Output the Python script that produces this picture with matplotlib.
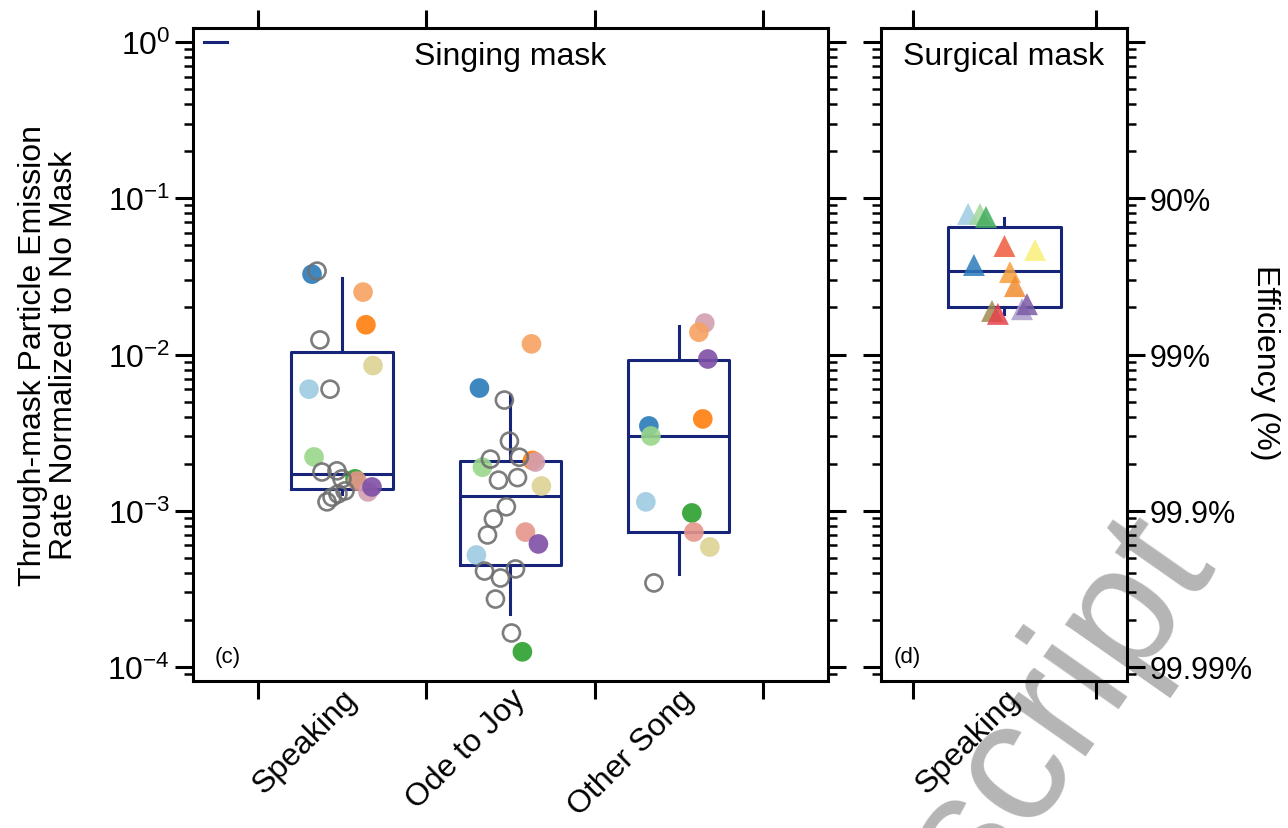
import numpy as np
import matplotlib
matplotlib.use("Agg")
import matplotlib.pyplot as plt
from matplotlib.ticker import LogLocator, NullFormatter

plt.rcParams.update({
    "font.family": ["Liberation Sans", "DejaVu Sans"],
    "mathtext.fontset": "custom",
    "mathtext.rm": "Liberation Sans",
    "mathtext.it": "Liberation Sans",
    "axes.unicode_minus": False,
    "font.size": 23,
})

NAVY = "#16247a"
GRAY = "#6f6f6f"

# participant colours (as seen in the figure)
C = {
    "blue": "#2a7ab8", "lblue": "#9fcbe3", "orange": "#ff7f0e", "lorange": "#f8a262",
    "green": "#2ca02c", "lgreen": "#99d68a", "salmon": "#e6958a", "purple": "#7d4fa6",
    "pink": "#d3a0b0", "khaki": "#dcd394",
}

categories = ["Speaking", "Ode to Joy", "Other Song"]

# box statistics (q1, median, q3, whisker low, whisker high)
box_q1 = [0.00138, 0.00045, 0.00073]
box_med = [0.00172, 0.00124, 0.00301]
box_q3 = [0.0104, 0.00208, 0.00922]
box_lo = [0.00128, 0.000218, 0.000394]
box_hi = [0.0309, 0.0055, 0.0152]

# unidentified participants (open grey circles): (category index, x offset, value)
open_cat = [0] * 10 + [1] * 14 + [2]
open_dx = [-0.148, -0.131, -0.071, -0.119, -0.030, 0.0, -0.089, -0.059, -0.024, 0.018,
           -0.036, -0.006, -0.119, 0.053, -0.071, 0.042, -0.024, -0.101, -0.136, -0.154,
           0.030, -0.059, -0.089, 0.006,
           -0.148]
open_val = [0.0342, 0.0124, 0.0060, 0.00177, 0.00180, 0.00160, 0.00114, 0.00122, 0.00128, 0.00134,
            0.00511, 0.00279, 0.00214, 0.0022, 0.00157, 0.00163, 0.00106, 0.000886, 0.0007, 0.000411,
            0.000424, 0.000371, 0.000272, 0.000165,
            0.000345]

# identified participants (filled circles)
fill_cat = [0] * 10 + [1] * 10 + [2] * 10
fill_col = ["blue", "lorange", "orange", "khaki", "lblue", "lgreen", "green", "salmon", "pink", "purple",
            "blue", "lorange", "orange", "pink", "lgreen", "khaki", "salmon", "purple", "lblue", "green",
            "pink", "lorange", "purple", "orange", "blue", "lgreen", "lblue", "green", "salmon", "khaki"]
fill_dx = [-0.178, 0.125, 0.142, 0.184, -0.196, -0.166, 0.077, 0.089, 0.154, 0.178,
           -0.184, 0.125, 0.131, 0.148, -0.166, 0.184, 0.089, 0.166, -0.202, 0.071,
           0.154, 0.119, 0.172, 0.142, -0.178, -0.166, -0.196, 0.077, 0.089, 0.184]
fill_val = [0.0327, 0.0251, 0.0155, 0.0085, 0.0060, 0.00221, 0.0016, 0.00155, 0.00132, 0.00142,
            0.0061, 0.0117, 0.0021, 0.00205, 0.0019, 0.00144, 0.00073, 0.000613, 0.000521, 0.000125,
            0.0159, 0.0139, 0.00936, 0.00387, 0.00349, 0.00301, 0.00114, 0.000968, 0.000731, 0.000586]

# surgical mask, speaking
surg_stats = dict(q1=0.0201, med=0.0342, q3=0.0655, whislo=0.0182, whishi=0.0748)
surg_col = ["#9ecae1", "#a1d99b", "#41ab5d", "#ef5a3c", "#f8ef78", "#2b7bba",
            "#f7a03c", "#f08c30", "#a99bc9", "#7b5ba6", "#a08c50", "#e6404a"]
surg_dx = [-0.199, -0.134, -0.101, 0.0, 0.167, -0.167, 0.030, 0.057, 0.096, 0.123, -0.068, -0.036]
surg_val = [0.0794, 0.0794, 0.0759, 0.0495, 0.0467, 0.0374, 0.0337, 0.0274, 0.0195, 0.021, 0.019, 0.0182]

eff_ticks = [1, 1e-1, 1e-2, 1e-3, 1e-4]
eff_labels = ["", "90%", "99%", "99.9%", "99.99%"]

YLIM = (10 ** -4.09, 10 ** 0.09)

fig = plt.figure(figsize=(12.88, 8.29), dpi=100)
ax = fig.add_axes([0.1498, 0.1773, 0.4930, 0.7877])
ax2 = fig.add_axes([0.684, 0.1773, 0.191, 0.7877])

boxprops = dict(color=NAVY, linewidth=2.2)


def style(a, cats):
    a.set_yscale("log")
    a.set_ylim(*YLIM)
    a.patch.set_alpha(0)
    for s in a.spines.values():
        s.set_linewidth(2.2)
    a.yaxis.set_major_locator(LogLocator(base=10, numticks=10))
    a.yaxis.set_minor_locator(LogLocator(base=10, subs=np.arange(2, 10), numticks=10))
    a.yaxis.set_minor_formatter(NullFormatter())
    n = len(cats)
    a.set_xticks(np.arange(n + 1) - 0.5)
    a.set_xticks(range(n), cats, minor=True)
    a.tick_params(which="major", direction="out", length=13, width=2.2)
    a.tick_params(which="minor", direction="out", length=6.5, width=1.8)
    a.tick_params(axis="x", which="major", top=True, bottom=True, labelbottom=False)
    a.tick_params(axis="x", which="minor", length=0, top=False, bottom=True,
                  labelrotation=45, pad=2)
    a.tick_params(axis="y", which="both", left=True, right=True)
    for lab in a.get_xticklabels(minor=True):
        lab.set_ha("right")
        lab.set_rotation_mode("anchor")


# panel (c)
stats = [dict(q1=a, med=b, q3=c, whislo=d, whishi=e)
         for a, b, c, d, e in zip(box_q1, box_med, box_q3, box_lo, box_hi)]
ax.bxp(stats, positions=range(len(categories)), widths=0.6, showcaps=False, showfliers=False,
       boxprops=boxprops, whiskerprops=boxprops, medianprops=boxprops, manage_ticks=False)
ax.scatter(np.array(fill_cat) + np.array(fill_dx), fill_val, s=200,
           c=[C[k] for k in fill_col], alpha=0.9, linewidths=0, zorder=3)
ax.scatter(np.array(open_cat) + np.array(open_dx), open_val, s=150, facecolors="none",
           edgecolors=GRAY, linewidths=1.9, alpha=0.9, zorder=4)
ax.plot([-0.82, -0.68], [1, 1], color=NAVY, lw=2.2)
style(ax, categories)
ax.set_xlim(-0.885, 2.885)
ax.text(0.5, 0.957, "Singing mask", transform=ax.transAxes, ha="center", va="center")
ax.text(0.055, 0.038, "(c)", transform=ax.transAxes, ha="center", va="center", fontsize=16)
ax.set_ylabel("Through-mask Particle Emission\nRate Normalized to No Mask", linespacing=1.05,
              va="center", ha="center")
ax.yaxis.set_label_coords(-0.227, 0.5)

# panel (d)
ax2.bxp([surg_stats], positions=[0], widths=0.62, showcaps=False, showfliers=False,
        boxprops=boxprops, whiskerprops=boxprops, medianprops=boxprops, manage_ticks=False)
ax2.scatter(np.array(surg_dx), surg_val, s=250, marker="^", c=surg_col, alpha=0.85,
            linewidths=0, zorder=3)
style(ax2, ["Speaking"])
ax2.set_xlim(-0.675, 0.67)
ax2.set_yticks(eff_ticks, eff_labels)
ax2.tick_params(axis="y", which="both", labelleft=False, labelright=True)
ax2.tick_params(axis="y", which="major", labelsize=22)
ax2.yaxis.set_label_position("right")
ax2.set_ylabel("Efficiency (%)", rotation=270, va="center", ha="center")
ax2.yaxis.set_label_coords(1.561, 0.489)
ax2.text(0.5, 0.957, "Surgical mask", transform=ax2.transAxes, ha="center", va="center")
ax2.text(0.106, 0.038, "(d)", transform=ax2.transAxes, ha="center", va="center", fontsize=16)

# watermark
fig.text(0.941, 0.33, "Manuscript", rotation=55, rotation_mode="anchor", ha="right",
         va="baseline", fontsize=125, color="#b5b5b5", zorder=-5)

fig.savefig("out.png", dpi=100)
